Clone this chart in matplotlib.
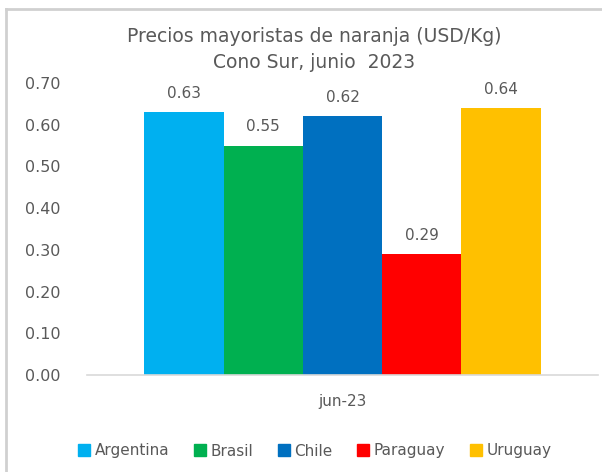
import matplotlib
matplotlib.use("Agg")
import matplotlib.pyplot as plt
from matplotlib.lines import Line2D

plt.rcParams['font.family'] = ['DejaVu Sans']

paises = ['Argentina', 'Brasil', 'Chile', 'Paraguay', 'Uruguay']
precios = [0.63, 0.55, 0.62, 0.29, 0.64]
colores = ['#00B0F0', '#00B050', '#0070C0', '#FF0000', '#FFC000']
categoria = 'jun-23'
yticks = [0.0, 0.1, 0.2, 0.3, 0.4, 0.5, 0.6, 0.7]

W, H = 602, 472
fig = plt.figure(figsize=(W / 100, H / 100), dpi=100)
ax = fig.add_axes([87 / W, 1 - 375 / H, (598 - 87) / W, (375 - 83) / H])

gris = '#595959'
ancho = 0.155
n = len(paises)
for i, (p, v, c) in enumerate(zip(paises, precios, colores)):
    x = (i - (n - 1) / 2) * ancho
    ax.bar(x, v, width=ancho, color=c, label=p)
    ax.text(x, v + 0.027, f"{v:.2f}", ha='center', va='bottom',
            fontsize=11, color=gris)

ax.set_xlim(-0.5, 0.5)
ax.set_ylim(0, 0.7)
ax.set_yticks(yticks)
ax.set_yticklabels([f"{t:.2f}" for t in yticks], fontsize=11.5, color=gris)
ax.set_xticks([0])
ax.set_xticklabels([categoria], fontsize=11, color=gris)
ax.tick_params(axis='x', length=0, pad=14)
ax.tick_params(axis='y', length=0, pad=19)
for s in ['top', 'right', 'left']:
    ax.spines[s].set_visible(False)
ax.spines['bottom'].set_color('#D9D9D9')
ax.spines['bottom'].set_linewidth(1.2)

fig.text(314 / W, 1 - 37 / H, 'Precios mayoristas de naranja (USD/Kg)',
         ha='center', va='center', fontsize=13.5, color=gris)
fig.text(314 / W, 1 - 62 / H, 'Cono Sur, junio  2023',
         ha='center', va='center', fontsize=13.5, color=gris)

handles = [Line2D([0], [0], marker='s', linestyle='', markersize=9,
                  markerfacecolor=c, markeredgecolor=c) for c in colores]
fig.legend(handles, paises, loc='center', bbox_to_anchor=(314 / W, 1 - 451 / H),
           ncol=5, frameon=False, fontsize=11, labelcolor=gris,
           handletextpad=0.2, columnspacing=1.5, handlelength=1.0)

# marco del grafico
fig.add_artist(Line2D([6 / W, 6 / W], [0, 1 - 9 / H], transform=fig.transFigure,
                      color='#D0D0D0', linewidth=2))
fig.add_artist(Line2D([6 / W, 1], [1 - 9 / H, 1 - 9 / H], transform=fig.transFigure,
                      color='#D0D0D0', linewidth=2))

fig.savefig('out.png', dpi=100)
